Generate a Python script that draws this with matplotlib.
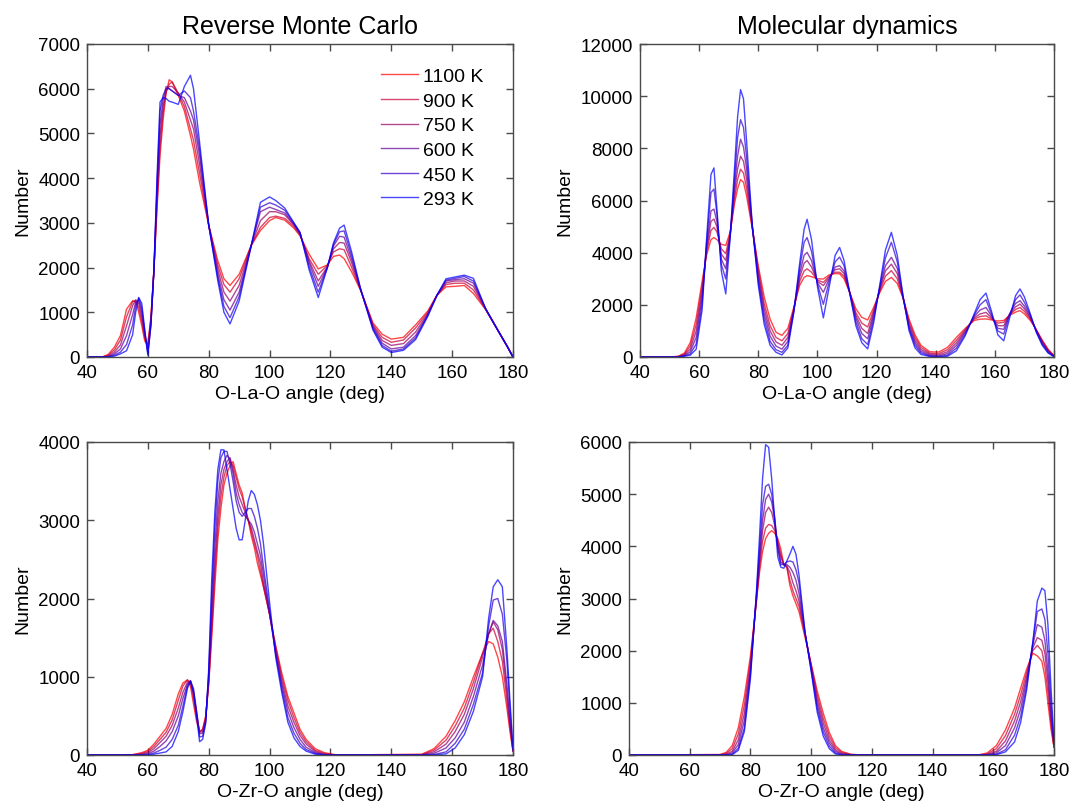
import numpy as np
import matplotlib
matplotlib.use("Agg")
import matplotlib.pyplot as plt

plt.rcParams['font.family'] = ['Liberation Sans', 'DejaVu Sans']

temps = ["1100 K", "900 K", "750 K", "600 K", "450 K", "293 K"]

# Reverse Monte Carlo, O-La-O
rmc_la_angle = [40, 45, 47, 49, 51, 53, 55, 56, 57, 58, 59, 60, 61, 62, 63, 64, 65, 66, 67, 68,
                70, 72, 74, 75, 77, 80, 83, 85, 87, 90, 94, 97, 100, 102, 105, 108, 110, 113, 116, 119,
                121, 123, 124.5, 127, 130, 134, 137, 140, 144, 148, 152, 155, 158, 161, 164, 167, 171, 175, 178, 180]
rmc_la_1100 = [0, 0, 60, 220, 480, 1070, 1260, 1230, 1000, 700, 350, 300, 900, 1950, 3300, 4500, 5300, 5900, 6200, 6150,
               5850, 5500, 4950, 4650, 3900, 2950, 2150, 1750, 1600, 1850, 2500, 2830, 3050, 3120, 3060, 2880, 2710, 2300, 1970, 2060,
               2250, 2280, 2200, 1900, 1480, 760, 510, 400, 440, 720, 1030, 1380, 1570, 1580, 1600, 1420, 1060, 600, 250, 0]
rmc_la_900 = [0, 0, 40, 160, 380, 900, 1240, 1260, 1100, 800, 420, 250, 850, 1950, 3400, 4700, 5450, 5950, 6100, 6150,
              5900, 5600, 5100, 4850, 4100, 2950, 2050, 1620, 1450, 1750, 2500, 2900, 3120, 3150, 3100, 2920, 2730, 2200, 1850, 2050,
              2350, 2420, 2400, 2000, 1480, 720, 440, 330, 380, 650, 1000, 1380, 1620, 1650, 1650, 1500, 1070, 600, 250, 0]
rmc_la_750 = [0, 0, 20, 110, 270, 700, 1150, 1280, 1200, 900, 480, 180, 800, 1950, 3550, 4950, 5600, 5950, 6050, 6050,
              5900, 5700, 5300, 5100, 4300, 2950, 1950, 1450, 1250, 1600, 2500, 3050, 3250, 3250, 3180, 2950, 2750, 2150, 1700, 2020,
              2420, 2560, 2550, 2100, 1490, 690, 370, 260, 300, 560, 970, 1380, 1660, 1700, 1700, 1580, 1070, 600, 250, 0]
rmc_la_600 = [0, 0, 10, 70, 180, 480, 950, 1230, 1270, 1000, 520, 120, 760, 1950, 3700, 5200, 5750, 6050, 6000, 5950,
              5850, 5800, 5500, 5300, 4500, 2950, 1850, 1280, 1050, 1450, 2500, 3250, 3350, 3300, 3220, 2970, 2770, 2100, 1580, 2010,
              2480, 2700, 2680, 2180, 1490, 660, 310, 180, 220, 480, 950, 1380, 1700, 1730, 1750, 1650, 1080, 600, 250, 0]
rmc_la_450 = [0, 0, 5, 40, 110, 280, 720, 1150, 1320, 1100, 560, 70, 720, 1950, 3850, 5500, 5850, 6000, 6000, 5950,
              5850, 5950, 5800, 5500, 4650, 2950, 1770, 1130, 880, 1350, 2500, 3350, 3450, 3400, 3280, 2990, 2780, 2020, 1450, 2000,
              2520, 2800, 2820, 2260, 1500, 630, 260, 130, 180, 430, 930, 1380, 1720, 1760, 1800, 1700, 1080, 600, 250, 0]
rmc_la_293 = [0, 0, 0, 20, 70, 140, 500, 1000, 1330, 1200, 600, 40, 700, 1950, 4000, 5700, 5800, 5780, 5720, 5700,
              5650, 6050, 6300, 6000, 4800, 2950, 1700, 1000, 740, 1250, 2500, 3460, 3580, 3500, 3330, 3000, 2790, 1950, 1330, 2000,
              2550, 2880, 2950, 2340, 1500, 600, 220, 100, 150, 390, 910, 1380, 1750, 1790, 1830, 1760, 1080, 600, 250, 0]

# Molecular dynamics, O-La-O
md_la_angle = [40, 50, 53, 55, 57, 59, 61, 62.5, 64, 65, 66, 67.5, 69, 70.5, 72, 73, 74, 75, 76, 78,
               80, 82, 84, 86, 88, 90, 92, 94, 95.5, 96.5, 98, 100, 102, 104, 106, 107.5, 109, 111, 113, 115,
               117, 119, 121, 123, 125, 127, 129, 131, 133, 135, 138, 141, 144, 147, 150, 153, 155, 157, 159, 161,
               163, 165, 167, 168.5, 170, 172, 174, 176, 178, 180]
md_la_1100 = [0, 0, 30, 150, 550, 1500, 2900, 3900, 4500, 4580, 4500, 4320, 4280, 4800, 5900, 6450, 6800, 6700, 6200, 4900,
              3500, 2300, 1450, 950, 830, 1100, 1900, 2750, 3050, 3120, 3080, 3000, 2990, 3150, 3200, 3190, 3000, 2450, 1850, 1520,
              1420, 1900, 2450, 2900, 3050, 2820, 2250, 1450, 850, 450, 200, 190, 370, 750, 1100, 1400, 1450, 1460, 1420, 1380,
              1400, 1600, 1720, 1780, 1650, 1400, 1050, 650, 300, 50]
md_la_900 = [0, 0, 20, 110, 420, 1250, 2700, 4000, 4850, 4970, 4800, 4150, 3960, 4750, 6100, 6800, 7200, 7050, 6500, 4950,
             3350, 2050, 1200, 750, 620, 900, 1850, 2900, 3300, 3380, 3250, 2950, 2860, 3100, 3250, 3250, 3100, 2450, 1700, 1300,
             1150, 1800, 2500, 3100, 3310, 3000, 2250, 1350, 750, 370, 150, 130, 280, 640, 1050, 1450, 1550, 1580, 1450, 1300,
             1330, 1620, 1820, 1900, 1750, 1450, 1040, 620, 270, 40]
md_la_750 = [0, 0, 12, 80, 300, 1000, 2500, 4100, 5200, 5290, 5000, 3950, 3700, 4700, 6350, 7200, 7700, 7500, 6850, 4950,
             3200, 1850, 1000, 580, 450, 750, 1800, 3050, 3600, 3700, 3450, 2900, 2740, 3050, 3350, 3380, 3200, 2450, 1600, 1100,
             900, 1700, 2550, 3300, 3560, 3200, 2250, 1250, 650, 290, 110, 80, 200, 540, 1000, 1500, 1650, 1710, 1500, 1200,
             1200, 1640, 1920, 2030, 1850, 1500, 1020, 590, 240, 30]
md_la_600 = [0, 0, 6, 60, 200, 750, 2300, 4200, 5600, 5670, 5200, 3750, 3380, 4680, 6600, 7700, 8350, 8050, 7250, 5000,
             3050, 1650, 800, 420, 300, 600, 1780, 3200, 3900, 4010, 3700, 2850, 2480, 3000, 3450, 3500, 3300, 2450, 1500, 900,
             700, 1600, 2600, 3500, 3820, 3400, 2250, 1150, 550, 220, 70, 40, 130, 440, 950, 1550, 1800, 1900, 1550, 1100,
             1060, 1660, 2050, 2160, 1950, 1550, 1000, 550, 210, 30]
md_la_450 = [0, 0, 2, 40, 120, 500, 2050, 4350, 6300, 6440, 5500, 3550, 2990, 4650, 6900, 8400, 9100, 8800, 7700, 5000,
             2900, 1450, 600, 280, 180, 450, 1750, 3400, 4400, 4580, 4050, 2800, 2020, 2900, 3650, 3830, 3500, 2400, 1350, 700,
             480, 1450, 2650, 3800, 4400, 3650, 2300, 1100, 450, 160, 40, 15, 70, 340, 880, 1600, 2000, 2200, 1600, 1000,
             880, 1620, 2200, 2380, 2100, 1600, 980, 500, 180, 20]
md_la_293 = [0, 0, 0, 30, 70, 300, 1800, 4500, 7000, 7250, 5700, 3300, 2420, 4600, 7300, 9200, 10250, 9900, 8350, 5000,
             2750, 1250, 450, 180, 80, 350, 1700, 3600, 4900, 5280, 4500, 2700, 1500, 2700, 3900, 4200, 3700, 2400, 1200, 550,
             310, 1300, 2700, 4100, 4780, 3900, 2300, 1000, 350, 100, 20, 0, 30, 240, 820, 1650, 2200, 2450, 1700, 850,
             620, 1500, 2350, 2610, 2300, 1650, 950, 450, 150, 20]

# Reverse Monte Carlo, O-Zr-O
rmc_zr_angle = [40, 55, 58, 60, 62, 64, 66, 68, 70, 71.5, 73, 74, 75, 76, 77, 78, 79, 80, 81, 82,
                83, 84, 85, 86, 87, 88, 89, 90, 91, 92, 93, 94, 95, 96, 97, 98, 100, 102, 104, 106,
                108, 110, 112, 115, 118, 122, 150, 154, 158, 161, 164, 167, 170, 172, 173.5, 175, 176.5, 178, 179, 180]
rmc_zr_1100 = [0, 5, 30, 60, 140, 240, 340, 520, 780, 920, 960, 880, 650, 430, 300, 330, 500, 900, 1500, 2150,
               2750, 3150, 3450, 3600, 3700, 3750, 3600, 3450, 3350, 3150, 3000, 2800, 2650, 2450, 2300, 2150, 1800, 1400, 1050, 750,
               540, 330, 200, 80, 30, 0, 10, 80, 240, 440, 680, 1000, 1300, 1450, 1420, 1250, 1000, 600, 300, 50]
rmc_zr_900 = [0, 3, 20, 45, 110, 200, 290, 450, 700, 880, 960, 920, 720, 480, 300, 320, 480, 920, 1600, 2300,
              2900, 3300, 3550, 3700, 3750, 3700, 3550, 3400, 3300, 3150, 3000, 2850, 2700, 2550, 2350, 2150, 1800, 1380, 1000, 700,
              480, 290, 170, 60, 20, 0, 5, 60, 190, 370, 600, 930, 1300, 1550, 1620, 1450, 1200, 700, 350, 50]
rmc_zr_750 = [0, 0, 10, 30, 80, 160, 240, 380, 600, 800, 930, 940, 780, 530, 290, 300, 460, 950, 1700, 2450,
              3050, 3450, 3650, 3750, 3800, 3650, 3450, 3300, 3200, 3100, 3000, 2900, 2750, 2600, 2450, 2200, 1800, 1350, 950, 630,
              420, 250, 140, 45, 10, 0, 0, 40, 140, 300, 520, 850, 1250, 1550, 1700, 1600, 1350, 800, 400, 50]
rmc_zr_600 = [0, 0, 5, 15, 50, 110, 180, 300, 500, 720, 900, 950, 820, 560, 270, 280, 440, 1000, 1850, 2650,
              3250, 3600, 3750, 3830, 3780, 3600, 3350, 3200, 3100, 3050, 3000, 2950, 2850, 2700, 2550, 2300, 1800, 1300, 900, 560,
              350, 200, 100, 30, 5, 0, 0, 20, 90, 220, 420, 750, 1150, 1550, 1720, 1650, 1450, 900, 450, 60]
rmc_zr_450 = [0, 0, 0, 5, 25, 60, 100, 200, 380, 620, 880, 950, 850, 560, 230, 240, 420, 1050, 2050, 2900,
              3500, 3800, 3880, 3880, 3720, 3500, 3250, 3100, 3050, 3100, 3150, 3150, 3050, 2900, 2700, 2400, 1850, 1300, 850, 480,
              280, 150, 70, 20, 0, 0, 0, 5, 40, 150, 330, 650, 1050, 1650, 1980, 2000, 1800, 1200, 600, 60]
rmc_zr_293 = [0, 0, 0, 0, 10, 25, 40, 110, 300, 550, 850, 940, 800, 500, 170, 200, 400, 1100, 2250, 3100,
              3650, 3900, 3900, 3650, 3400, 3150, 2900, 2750, 2750, 3000, 3250, 3380, 3330, 3200, 3000, 2700, 1950, 1250, 800, 420,
              220, 110, 50, 10, 0, 0, 0, 0, 15, 90, 260, 560, 1000, 1750, 2150, 2240, 2150, 1350, 700, 80]

# Molecular dynamics, O-Zr-O
md_zr_angle = [40, 70, 72, 74, 76, 78, 80, 82, 83, 84, 85, 86, 87, 88, 89, 90, 91, 92, 93, 94,
               95, 96, 98, 100, 102, 104, 106, 108, 110, 113, 116, 155, 158, 161, 164, 167, 169, 171, 173, 174.5,
               176, 177, 178, 179, 180]
md_zr_1100 = [0, 10, 50, 180, 520, 1120, 1900, 2950, 3500, 3900, 4150, 4250, 4300, 4250, 4150, 3950, 3650, 3600, 3250, 3050,
              2900, 2750, 2250, 1750, 1230, 800, 430, 180, 70, 15, 0, 0, 40, 180, 480, 900, 1280, 1650, 1950, 1900,
              1800, 1500, 1000, 500, 150]
md_zr_900 = [0, 5, 30, 120, 400, 960, 1800, 2980, 3600, 4100, 4350, 4420, 4400, 4300, 4100, 3850, 3650, 3600, 3350, 3150,
             3000, 2850, 2300, 1730, 1150, 700, 360, 140, 50, 10, 0, 0, 20, 120, 370, 780, 1150, 1580, 2000, 2100,
             2000, 1700, 1200, 600, 150]
md_zr_750 = [0, 0, 15, 70, 290, 800, 1700, 3010, 3700, 4300, 4650, 4750, 4650, 4400, 4050, 3800, 3650, 3620, 3500, 3300,
             3150, 2950, 2320, 1700, 1060, 610, 290, 100, 30, 5, 0, 0, 10, 70, 270, 650, 1020, 1500, 2050, 2250,
             2200, 1950, 1400, 700, 150]
md_zr_600 = [0, 0, 5, 40, 200, 660, 1620, 3050, 3800, 4500, 4900, 5000, 4850, 4500, 4000, 3700, 3650, 3650, 3600, 3500,
             3350, 3100, 2330, 1670, 980, 520, 230, 70, 15, 0, 0, 0, 5, 40, 180, 520, 880, 1430, 2100, 2500,
             2450, 2200, 1600, 800, 200]
md_zr_450 = [0, 0, 0, 15, 130, 520, 1540, 3100, 3950, 4800, 5150, 5190, 5000, 4550, 3950, 3650, 3650, 3700, 3720, 3700,
             3550, 3300, 2340, 1640, 900, 440, 170, 40, 5, 0, 0, 0, 0, 15, 100, 380, 740, 1330, 2150, 2750,
             2800, 2600, 1950, 1000, 200]
md_zr_293 = [0, 0, 0, 5, 90, 450, 1460, 3150, 4200, 5300, 5950, 5900, 5300, 4500, 3800, 3600, 3580, 3720, 3850, 4000,
             3850, 3450, 2350, 1600, 820, 360, 120, 20, 0, 0, 0, 0, 0, 5, 60, 250, 620, 1250, 2150, 2950,
             3200, 3150, 2500, 1300, 250]

# red -> blue with temperature
colors = [(1 - i / 5, 0, i / 5) for i in range(6)]
edge = '#4a4a4a'

fig = plt.figure(figsize=(10.72, 8.12), dpi=100)
W, H = 1072.0, 812.0

def make_ax(x0, x1, y0, y1):
    return fig.add_axes([x0 / W, 1 - y1 / H, (x1 - x0) / W, (y1 - y0) / H])

def style(ax, ymax, ystep, xlabel):
    ax.set_xlim(40, 180)
    ax.set_ylim(0, ymax)
    ax.set_xticks(range(40, 181, 20))
    ax.set_yticks(range(0, ymax + 1, ystep))
    ax.tick_params(direction='in', top=True, right=True, length=5, width=1,
                   color=edge, labelsize=13.5, pad=5)
    for s in ax.spines.values():
        s.set_color(edge)
        s.set_linewidth(1)
    ax.set_xlabel(xlabel, fontsize=14, labelpad=3)
    ax.set_ylabel('Number', fontsize=14, labelpad=5)

def draw(ax, angle, series):
    for lab, col, ys in zip(temps, colors, series):
        ax.plot(angle, ys, color=col, alpha=0.72, lw=1.0, label=lab)

ax1 = make_ax(87, 513, 45, 358)
draw(ax1, rmc_la_angle, [rmc_la_1100, rmc_la_900, rmc_la_750, rmc_la_600, rmc_la_450, rmc_la_293])
style(ax1, 7000, 1000, 'O-La-O angle (deg)')
ax1.set_title('Reverse Monte Carlo', fontsize=18, pad=8)
ax1.legend(loc='upper left', bbox_to_anchor=(0.69, 0.925), frameon=False, fontsize=14,
           handlelength=1.9, handletextpad=0.25, labelspacing=0.36, borderpad=0, borderaxespad=0)

ax2 = make_ax(640, 1054, 45, 358)
draw(ax2, md_la_angle, [md_la_1100, md_la_900, md_la_750, md_la_600, md_la_450, md_la_293])
style(ax2, 12000, 2000, 'O-La-O angle (deg)')
ax2.set_title('Molecular dynamics', fontsize=18, pad=8)

ax3 = make_ax(87, 513, 443, 756)
draw(ax3, rmc_zr_angle, [rmc_zr_1100, rmc_zr_900, rmc_zr_750, rmc_zr_600, rmc_zr_450, rmc_zr_293])
style(ax3, 4000, 1000, 'O-Zr-O angle (deg)')

ax4 = make_ax(629, 1054, 443, 756)
draw(ax4, md_zr_angle, [md_zr_1100, md_zr_900, md_zr_750, md_zr_600, md_zr_450, md_zr_293])
style(ax4, 6000, 1000, 'O-Zr-O angle (deg)')

fig.savefig('out.png', dpi=100)
